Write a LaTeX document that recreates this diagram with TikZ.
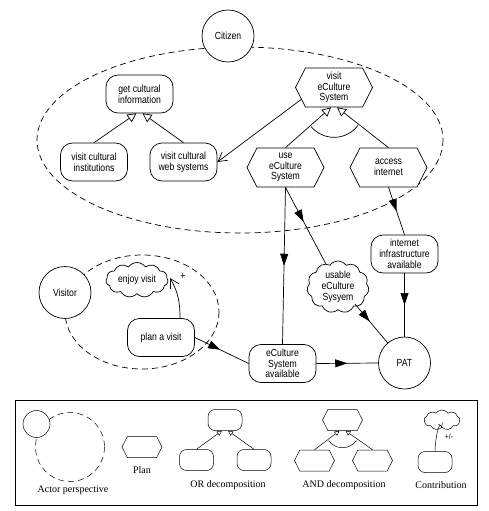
\documentclass[tikz,border=0pt]{standalone}
\usepackage{fontspec}
\setmainfont{Liberation Serif}
\newfontfamily\narrowsans[FakeStretch=0.84]{Liberation Sans}
\usetikzlibrary{shapes.geometric,shapes.symbols,arrows.meta,decorations.markings,calc}
\begin{document}
\begin{tikzpicture}[x=1pt,y=1pt,yscale=-1,
  every path/.style={line width=0.7pt},
  txt/.style={font=\narrowsans\fontsize{10.3}{10.7}\selectfont, align=center, inner sep=1pt},
  goal/.style={txt, draw, fill=white, rounded corners=12pt, minimum width=67pt, minimum height=38pt},
  plan/.style={txt, draw, fill=white, signal, signal to=east and west, signal pointer angle=126, minimum width=77pt, minimum height=39pt},
  softgoal/.style={txt, draw, fill=white, cloud, cloud puffs=11, cloud puff arc=110, cloud ignores aspect, minimum width=62pt, minimum height=38pt},
  actor/.style={txt, draw, fill=white, circle, minimum size=52pt},
  persp/.style={dash pattern=on 6pt off 4pt},
  orlink/.style={-{Triangle[open,length=9pt,width=9pt]}},
  means/.style={-{Straight Barb[length=9pt,width=10pt]}},
  dep/.style={postaction={decorate}, decoration={markings, mark=at position #1 with {\arrow{Triangle[length=12pt,width=8pt]}}}},
  dep/.default=0.5,
  leg/.style={line width=0.5pt},
  legtxt/.style={font=\fontsize{10}{12}\selectfont, inner sep=1pt},
  lgoal/.style={draw, fill=white, leg, rounded corners=7pt, minimum width=34pt, minimum height=21pt, inner sep=0pt},
  lplan/.style={draw, fill=white, leg, signal, signal to=east and west, signal pointer angle=126, minimum width=40pt, minimum height=21pt, inner sep=0pt},
  lor/.style={leg, -{Triangle[open,length=5pt,width=5pt]}}
]
\useasboundingbox (0,0) rectangle (488,511);

% actor perspectives
\draw[persp] (240,140) ellipse [x radius=203pt, y radius=93pt];
\draw[persp] (142,312) ellipse [x radius=77pt, y radius=57pt];

\node[actor] (citizen) at (228,36) {Citizen};
\node[goal] (gci) at (139.5,94) {get cultural\\information};
\node[goal] (vci) at (94,162) {visit cultural\\institutions};
\node[goal] (vcw) at (183.5,162) {visit cultural\\web systems};
\node[plan] (ves) at (334,87.5) {visit\\eCulture\\System};
\node[plan] (ues) at (285.5,167.5) {use\\eCulture\\System};
\node[plan] (ai) at (388.5,167.5) {access\\internet};
\node[goal] (iia) at (404.5,254) {internet\\infrastructure\\available};
\node[softgoal] (ues2) at (338,287) {usable\\eCulture\\Sysyem};
\node[actor] (visitor) at (65,292.5) {Visitor};
\node[softgoal, minimum height=35pt] (ev) at (137,280) {enjoy visit};
\node[goal] (pav) at (161,337.5) {plan a visit};
\node[goal] (esa) at (282.5,363.5) {eCulture\\System\\available};
\node[actor] (pat) at (404.5,363) {PAT};

% OR decomposition
\draw[orlink] (vci.north) -- ($(gci.south)+(-3,0)$);
\draw[orlink] (vcw.north) -- ($(gci.south)+(3,0)$);
% AND decomposition
\draw[orlink] (ues.north) -- ($(ves.south)+(-3,0)$);
\draw[orlink] (ai.north) -- ($(ves.south)+(3,0)$);
\draw (ves.south) ++(37:30pt) arc[start angle=37, end angle=140, radius=30pt];
% means-end
\draw[means] (ves.200) -- (vcw.east);
% dependencies
\draw[dep=0.5] (ues.south) -- (esa.north);
\draw[dep=0.45] (ues.south) -- (ues2);
\draw[dep=0.5] (ai.south) -- (iia.north);
\draw[dep=0.5] (iia.south) -- (pat.north);
\draw[dep=0.45] ($(ues2.center)+(17,17)$) -- (pat);
\draw[dep=0.5] (esa.east) -- (pat.west);
\draw[dep=0.47] (pav.east) -- (esa.west);
% contribution
\draw[means] ($(pav.north)+(19,0)$) to[out=270, in=60] ($(ev.center)+(33,-2)$);
\node[txt] (plus) at (183,277) {+};

% legend
\draw[line width=0.8pt] (15,400) rectangle (477,505);
\draw[leg, persp] (70,447) circle[radius=34.5pt];
\node[draw, fill=white, leg, circle, minimum size=27pt, inner sep=0pt] (la) at (36.5,424) {};
\node[legtxt] (lat) at (73,490) {Actor perspective};

\node[lplan] (lp) at (142,447) {};
\node[legtxt] (lpt) at (142,470) {Plan};

\node[lgoal] (orT) at (225,420) {};
\node[lgoal] (orL) at (196.5,460) {};
\node[lgoal] (orR) at (254,460) {};
\draw[lor] (orL.north) -- ($(orT.south)+(-3,0)$);
\draw[lor] (orR.north) -- ($(orT.south)+(3,0)$);
\node[legtxt] (ort) at (228,485) {OR decomposition};

\node[lplan] (anT) at (342.5,420) {};
\node[lplan] (anL) at (314.5,460.5) {};
\node[lplan] (anR) at (372.5,460.5) {};
\draw[lor] (anL.north) -- ($(anT.south)+(-3,0)$);
\draw[lor] (anR.north) -- ($(anT.south)+(3,0)$);
\draw[leg] (anT.south) ++(35:17pt) arc[start angle=35, end angle=145, radius=17pt];
\node[legtxt] (ant) at (344,485) {AND decomposition};

\node[draw, fill=white, leg, cloud, cloud puffs=9, cloud puff arc=110, cloud ignores aspect, minimum width=36pt, minimum height=20pt, inner sep=0pt] (lc) at (442,420) {};
\node[lgoal] (lr) at (435,462) {};
\draw[leg, -{Straight Barb[length=4pt,width=4pt]}] (lr.north) to[out=270, in=250] (lc.south);
\node[font=\narrowsans\fontsize{8}{8}\selectfont, inner sep=0pt] (pm) at (449,437) {+/-};
\node[legtxt] (lct) at (441,485) {Contribution};
\end{tikzpicture}
\end{document}
